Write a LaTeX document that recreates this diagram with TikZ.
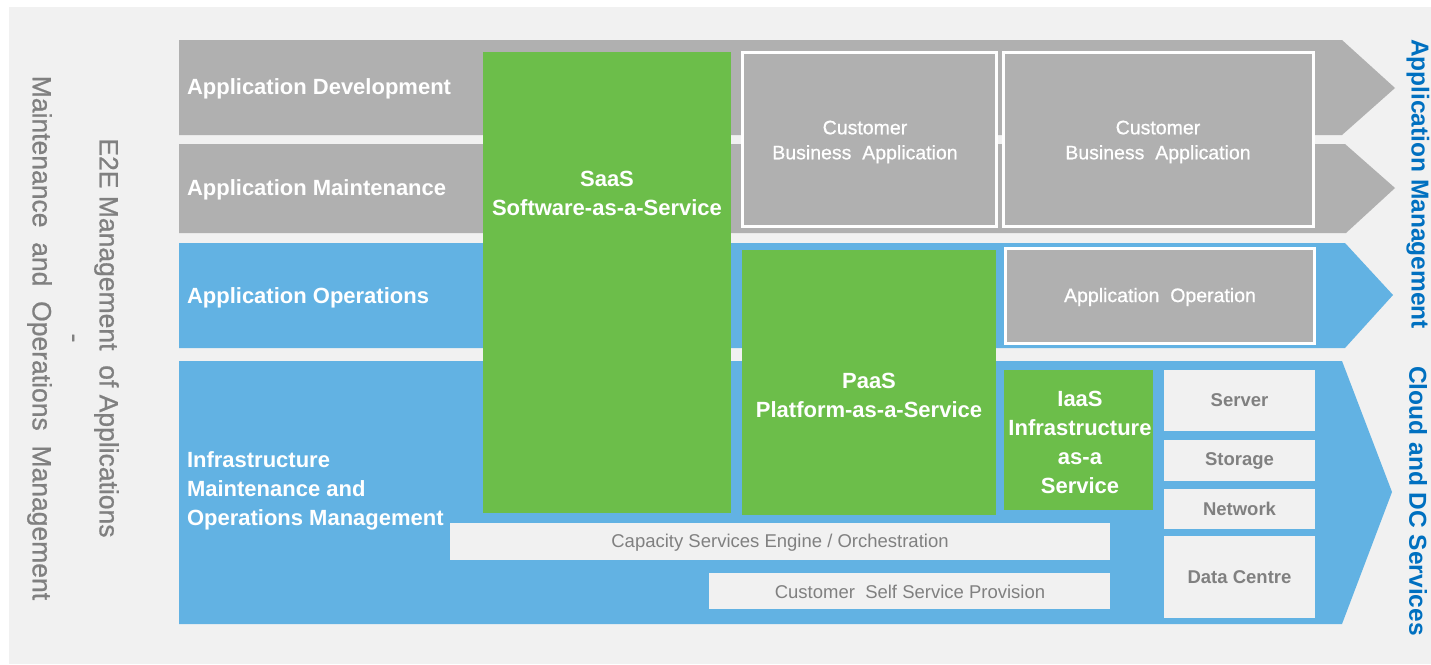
\documentclass[tikz,border=0pt]{standalone}
\usepackage{fontspec}
\setmainfont{Liberation Sans}
\newfontfamily\semibold[FakeBold=0.8]{Liberation Sans}
\definecolor{bgc}{RGB}{241,241,241}
\definecolor{bandgray}{RGB}{176,176,176}
\definecolor{bandblue}{RGB}{98,178,227}
\definecolor{boxgreen}{RGB}{108,190,74}
\definecolor{txtgray}{RGB}{128,128,128}
\definecolor{lblblue}{RGB}{0,112,192}
\begin{document}
\begin{tikzpicture}[x=1pt,y=-1pt,
  every node/.style={inner sep=0pt,outer sep=0pt},
  greenbox/.style={fill=boxgreen,anchor=north west},
  graybox/.style={fill=bandgray,draw=white,line width=3pt,anchor=north west},
  lightbox/.style={fill=bgc,anchor=north west},
  rowlabel/.style={text=white,font=\bfseries\fontsize{22}{29}\selectfont,anchor=west,align=left},
  boxtitle/.style={text=white,font=\bfseries\fontsize{22}{29}\selectfont,align=center},
  cbatext/.style={text=white,font=\semibold\fontsize{19.5}{25}\selectfont,align=center},
  infratext/.style={text=txtgray,font=\bfseries\fontsize{18.5}{22}\selectfont},
  svctext/.style={text=txtgray,font=\fontsize{18.5}{22}\selectfont},
  sidelabel/.style={text=lblblue,font=\bfseries\fontsize{24.5}{29}\selectfont,rotate=-90},
  lefttext/.style={text=txtgray,font=\semibold\fontsize{26.5}{33.5}\selectfont,rotate=-90,align=center}
]
\useasboundingbox (0,0) rectangle (1431,664);
\fill[white] (0,0) rectangle (1431,664);
\fill[bgc] (9,7) rectangle (1431,664);

% chevron bands
\fill[bandgray] (179,40) -- (1342,40) -- (1395,88) -- (1342,135) -- (179,135) -- cycle;
\fill[bandgray] (179,144) -- (1345,144) -- (1395,188) -- (1346,233) -- (179,233) -- cycle;
\fill[bandblue] (179,243) -- (1345,243) -- (1393,295) -- (1345,348) -- (179,348) -- cycle;
\fill[bandblue] (179,361) -- (1342,361) -- (1392,492) -- (1342,624) -- (179,624) -- cycle;

% row labels
\node[rowlabel] (devlbl) at (187,89) {Application Development};
\node[rowlabel] (mntlbl) at (187,190) {Application Maintenance};
\node[rowlabel] (opslbl) at (187,298) {Application Operations};
\node[rowlabel] (infralbl) at (187,491) {Infrastructure\\Maintenance and\\Operations Management};

% green service boxes
\node[greenbox,minimum width=248,minimum height=461] (saas) at (483,52) {};
\node[greenbox,minimum width=254,minimum height=265] (paas) at (742,250) {};
\node[greenbox,minimum width=149,minimum height=140] (iaas) at (1004,370) {};
\node[boxtitle] (saastxt) at (607,193) {SaaS\\Software-as-a-Service};
\node[boxtitle] (paastxt) at (869,395) {PaaS\\Platform-as-a-Service};
\node[boxtitle] (iaastxt) at (1080,442) {IaaS\\Infrastructure\\as-a\\Service};

% customer business application boxes
\node[graybox,minimum width=254,minimum height=174] (cba1) at (742.5,52.5) {};
\node[graybox,minimum width=310,minimum height=174] (cba2) at (1003.5,52.5) {};
\node[cbatext] (cba1txt) at (865,142) {Customer\\Business~~Application};
\node[cbatext] (cba2txt) at (1158,142) {Customer\\Business~~Application};
\node[graybox,minimum width=309,minimum height=95] (appop) at (1005.5,248.5) {};
\node[cbatext] (appoptxt) at (1160,297) {Application~~Operation};

% infrastructure boxes
\node[lightbox,minimum width=151,minimum height=61] (server) at (1164,370) {};
\node[lightbox,minimum width=151,minimum height=41] (storage) at (1164,440) {};
\node[lightbox,minimum width=151,minimum height=40] (network) at (1164,489) {};
\node[lightbox,minimum width=151,minimum height=82] (dc) at (1164,536) {};
\node[infratext] (servertxt) at (server.center) {Server};
\node[infratext] (storagetxt) at (storage.center) {Storage};
\node[infratext] (networktxt) at (network.center) {Network};
\node[infratext] (dctxt) at (dc.center) {Data Centre};

% capacity / self service
\node[lightbox,minimum width=660,minimum height=37] (cap) at (450,523) {};
\node[lightbox,minimum width=401,minimum height=36] (cssp) at (709,573) {};
\node[svctext] (captxt) at (780,543) {Capacity Services Engine / Orchestration};
\node[svctext] (cssptxt) at (910,592) {Customer~~Self Service Provision};

% side labels
\node[sidelabel] (appmgmt) at (1418,184) {Application Management};
\node[sidelabel] (cloud) at (1418,501) {Cloud and DC Services};

% left text
\node[lefttext] (e2e) at (73,338) {E2E Management~~of Applications\\-\\Maintenance~~and~~Operations~~Management};
\end{tikzpicture}
\end{document}
